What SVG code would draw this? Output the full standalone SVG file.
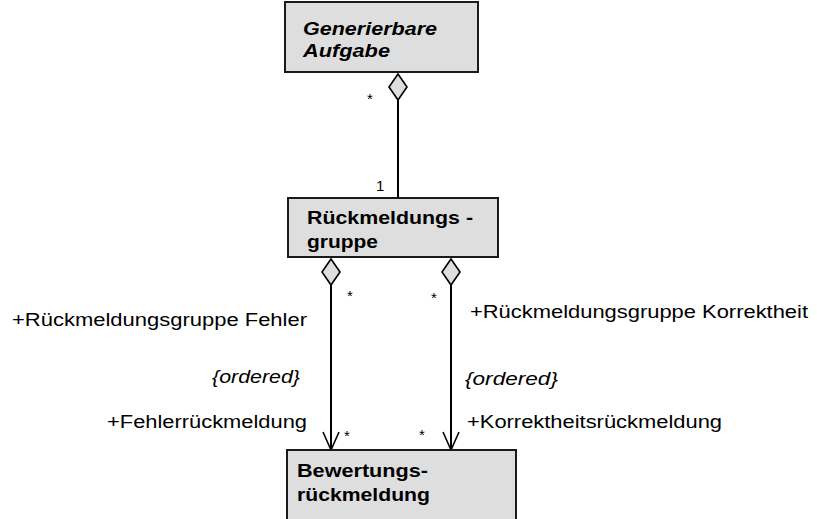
<svg xmlns="http://www.w3.org/2000/svg" width="817" height="519" viewBox="0 0 817 519">
  <style>
    .box { fill: #dedede; stroke: #1a1a1a; stroke-width: 2; }
    .cls { font-family: "Liberation Sans", Arial, sans-serif; font-size: 18px; font-weight: bold; fill: #000; }
    .abs { font-style: italic; }
    .lbl { font-family: "Liberation Sans", Arial, sans-serif; font-size: 18px; fill: #000; }
    .ord { font-style: italic; }
    .mult { font-family: "Liberation Sans", Arial, sans-serif; font-size: 15px; fill: #000; }
    .edge { fill: none; stroke: #000; stroke-width: 2; }
    .diamond { fill: #dedede; stroke: #000; stroke-width: 1.6; }
    .head { fill: none; stroke: #000; stroke-width: 1.6; }
  </style>

  <!-- connectors: aggregations and navigable associations -->
  <g id="connectors">
    <line class="edge" x1="398" y1="100" x2="398" y2="198"/>
    <polygon class="diamond" points="398,74 407,87 398,100 389,87"/>

    <line class="edge" x1="331" y1="285" x2="331" y2="450"/>
    <polygon class="diamond" points="331,259 340,272 331,285 322,272"/>
    <polyline class="head" points="323,432 331,450 339,432"/>

    <line class="edge" x1="451" y1="285" x2="451" y2="450"/>
    <polygon class="diamond" points="451,259 460,272 451,285 442,272"/>
    <polyline class="head" points="443,432 451,450 459,432"/>

    <!-- multiplicities -->
    <text class="mult" x="367" y="104">*</text>
    <text class="mult" x="376" y="191">1</text>
    <text class="mult" x="347" y="301">*</text>
    <text class="mult" x="431" y="303">*</text>
    <text class="mult" x="344" y="441">*</text>
    <text class="mult" x="419" y="440">*</text>

    <!-- role names and constraints -->
    <text class="lbl" x="12" y="326" textLength="295" lengthAdjust="spacingAndGlyphs">+Rückmeldungsgruppe Fehler</text>
    <text class="lbl ord" x="212" y="383" textLength="88" lengthAdjust="spacingAndGlyphs">{ordered}</text>
    <text class="lbl" x="107" y="428" textLength="200" lengthAdjust="spacingAndGlyphs">+Fehlerrückmeldung</text>
    <text class="lbl" x="470" y="318" textLength="338" lengthAdjust="spacingAndGlyphs">+Rückmeldungsgruppe Korrektheit</text>
    <text class="lbl ord" x="465" y="385" textLength="93" lengthAdjust="spacingAndGlyphs">{ordered}</text>
    <text class="lbl" x="467" y="428" textLength="255" lengthAdjust="spacingAndGlyphs">+Korrektheitsrückmeldung</text>
  </g>

  <g id="generierbare-aufgabe">
    <rect class="box" x="285" y="2" width="193" height="70"/>
    <text class="cls abs" x="303" y="35" textLength="134" lengthAdjust="spacingAndGlyphs">Generierbare</text>
    <text class="cls abs" x="303" y="57" textLength="87" lengthAdjust="spacingAndGlyphs">Aufgabe</text>
  </g>

  <g id="rueckmeldungsgruppe">
    <rect class="box" x="288" y="198" width="210" height="59"/>
    <text class="cls" x="307" y="224" textLength="166" lengthAdjust="spacingAndGlyphs">Rückmeldungs -</text>
    <text class="cls" x="307" y="248" textLength="71" lengthAdjust="spacingAndGlyphs">gruppe</text>
  </g>

  <g id="bewertungsrueckmeldung">
    <rect class="box" x="287" y="450" width="229" height="80"/>
    <text class="cls" x="297" y="477" textLength="131" lengthAdjust="spacingAndGlyphs">Bewertungs-</text>
    <text class="cls" x="297" y="501" textLength="133" lengthAdjust="spacingAndGlyphs">rückmeldung</text>
  </g>
</svg>
